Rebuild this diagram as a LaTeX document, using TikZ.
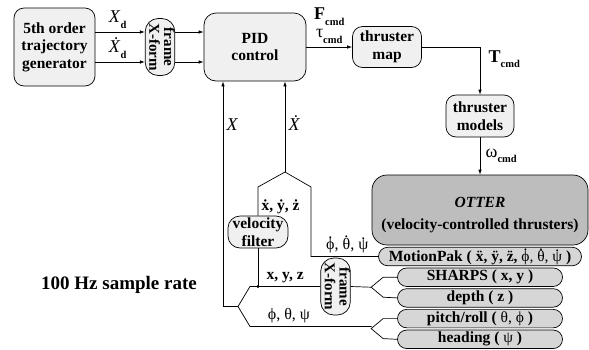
\documentclass[tikz,border=0pt]{standalone}
\usepackage{fontspec}
\setmainfont{Liberation Serif}
\usepackage{graphicx}
\usepackage{tikz}
\usetikzlibrary{arrows.meta,
                calc,
                positioning,
                shapes.misc}
\definecolor{boxgray}{gray}{0.94}
\definecolor{ottergray}{gray}{0.74}
\definecolor{sensgray}{gray}{0.84}
\newcommand{\blockfont}{\fontsize{15.5}{17.5}\selectfont\bfseries}
\newcommand{\lowsub}[1]{\raisebox{-0.3em}{\fontsize{10.5}{11}\selectfont\bfseries #1}}
\newcommand{\framexf}{\rotatebox{-90}{\fontsize{15}{14}\selectfont\bfseries\begin{tabular}{@{}c@{}}frame\\X-form\end{tabular}}}
\newcommand{\topdot}[1]{\leavevmode\setbox0\hbox{#1}\rlap{\hbox to\wd0{\hss\raisebox{\dimexpr\ht0+0.3pt\relax}{.}\hss}}\box0}

\begin{document}
\begin{tikzpicture}[
				x=1pt, y=-1pt,
				line width=0.7pt,
				>={Latex[length=5pt,width=3.5pt]},
				main node/.style={draw,rounded corners=10pt,fill=boxgray,align=center,font=\blockfont,inner sep=2pt},
				xform node/.style={draw,rounded corners=13pt,fill=boxgray,minimum width=29pt,minimum height=57pt,inner sep=0pt},
				sensor node/.style={draw,rounded rectangle,fill=sensgray,minimum height=18.5pt,inner sep=0pt,font=\blockfont},
				sig/.style={font=\fontsize{18}{20}\selectfont},
				greek/.style={font=\fontsize{16}{18}\selectfont}
				]
		\useasboundingbox (0,0) rectangle (589,349);
		\node[main node,minimum width=81pt,minimum height=78pt] (gen) at (54.5,47) {5th order\\trajectory\\generator};
		\node[xform node] (fx1) at (160,47) {\framexf};
		\node[main node,rounded corners=12pt,minimum width=102pt,minimum height=68pt] (pid) at (255,47) {PID\\control};
		\node[main node,minimum width=69pt,minimum height=41pt] (map) at (387,47) {thruster\\map};
		\node[main node,minimum width=68pt,minimum height=42pt] (models) at (480,116) {thruster\\models};
		\node[main node,rounded corners=15pt,fill=ottergray,minimum width=216pt,minimum height=70pt,
			label={[font=\blockfont,align=center,yshift=-5pt]center:{\textit{OTTER}\\[4pt](velocity-controlled thrusters)}}] (otter) at (480,210) {};
		\node[sensor node,minimum width=203pt] (mpak) at (480,256.5) {MotionPak ( ẍ, ÿ, z̈, {\mdseries\topdot{ϕ}, \topdot{θ}, \topdot{ψ}} )};
		\node[sensor node,minimum width=165pt,below=1.5pt of mpak] (sharps) {SHARPS ( x, y )};
		\node[sensor node,minimum width=165pt,below=1.5pt of sharps] (depth) {depth ( z )};
		\node[sensor node,minimum width=165pt,below=1.5pt of depth] (pitch) {pitch/roll ( {\mdseries θ, ϕ} )};
		\node[sensor node,minimum width=165pt,below=1.5pt of pitch] (heading) {heading ( {\mdseries ψ} )};
		\node[main node,rounded corners=12pt,minimum width=60pt,minimum height=32pt,inner sep=0pt] (vfilt) at (258,232) {velocity\\filter};
		\node[xform node] (fx2) at (335.5,286.5) {\framexf};
		\node[font=\fontsize{19}{21}\selectfont\bfseries] (rate) at (119,285) {100 Hz sample rate};

		\coordinate (apex) at (285,172);
		\coordinate (vl) at (258,187);
		\coordinate (vr) at (311,187);
		\coordinate (dot) at (258,286.5);
		\coordinate (c1) at (250,286.5);
		\coordinate (fork) at (238,306.5);
		\coordinate (c4) at (250,326.5);
		\coordinate (xl) at (223,306.5);

		\draw[->] ([yshift=15pt]gen.east) -- ([yshift=15pt]fx1.west) node[pos=0.45,above,sig] {\textit{X}\lowsub{d}};
		\draw[->] ([yshift=-15pt]gen.east) -- ([yshift=-15pt]fx1.west) node[pos=0.45,above,sig] {\textit{Ẋ}\lowsub{d}};
		\draw[->] ([yshift=15pt]fx1.east) -- ([yshift=15pt]pid.west);
		\draw[->] ([yshift=-15pt]fx1.east) -- ([yshift=-15pt]pid.west);
		\draw[->] (pid.east) -- (map.west) node[midway,above,sig,align=center] {\textbf{F}\lowsub{cmd}\\[-2pt]τ\lowsub{cmd}};
		\draw[->] (map.east) -| (models.north) node[pos=0.63,right=5pt,sig] {\textbf{T}\lowsub{cmd}};
		\draw[->] (models.south) -- (otter.north) node[midway,right=2pt,sig] {ω\lowsub{cmd}};

		\draw[->] (apex) -- (apex |- pid.south) node[pos=0.54,right,sig] {\textit{Ẋ}};
		\draw[->] (fork) -- (xl) -- (xl |- pid.south) node[pos=0.81,right,sig] {\textit{X}};
		\draw (vfilt.north) -- (vl) node[pos=0.3,right,font=\blockfont] {ẋ, ẏ, ż} -- (apex) -- (vr) |- (mpak.west) node[pos=0.77,above,greek] {\topdot{ϕ}, \topdot{θ}, \topdot{ψ}};
		\draw (vfilt.south) -- (dot);
		\fill (dot) circle (1.7);
		\draw (fx2.west) -- (c1) node[midway,above,font=\blockfont] {x, y, z} -- (fork) -- (c4) -- (c4 -| fx2.east) -- ++(21,0) coordinate (s2);
		\path (c4) -- (s2) node[pos=0.32,above,greek] {ϕ, θ, ψ};

		\draw (sharps.west) -- ++(-14,0) -- ++(-12,10) coordinate (s1) -- ++(12,10) -- (depth.west);
		\draw (fx2.east) -- (s1);
		\draw (pitch.west) -- ++(-14,0) -- ++(-12,10) -- ++(12,10) -- (heading.west);
\end{tikzpicture}
\end{document}
